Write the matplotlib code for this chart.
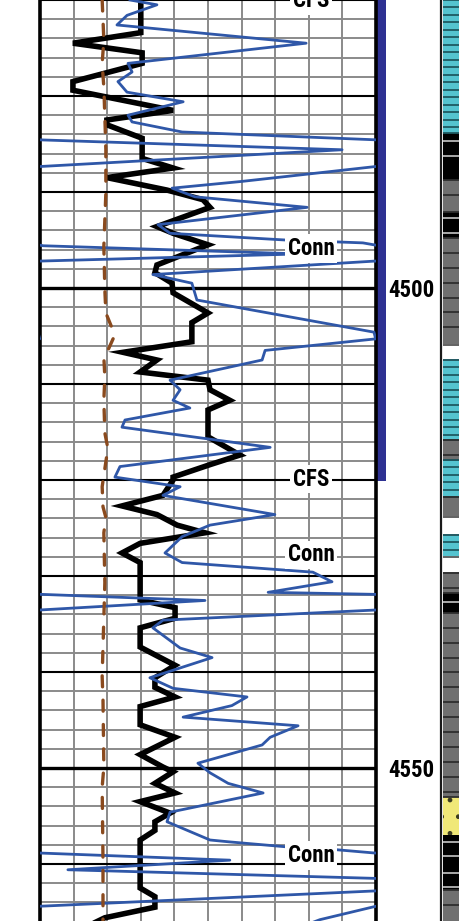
import numpy as np
import matplotlib
matplotlib.use("Agg")
import matplotlib.pyplot as plt
import matplotlib.font_manager as fm

# --- depth track data (depth in ft, curve values on a 0-100 track scale) ---
black_depth = [4470.0, 4473.4, 4474.5, 4475.5, 4476.6, 4478.5, 4479.4, 4481.5, 4482.5, 4483.0,
               4484.4, 4486.5, 4487.5, 4488.5, 4489.8, 4490.8, 4491.6, 4493.6, 4494.3, 4495.5,
               4497.6, 4498.4, 4499.5, 4500.5, 4502.6, 4503.6, 4505.6, 4506.7, 4507.5, 4508.75,
               4509.6, 4510.6, 4511.7, 4512.7, 4515.5, 4517.4, 4518.4, 4519.7, 4520.0, 4521.6,
               4522.7, 4523.6, 4524.7, 4525.5, 4526.6, 4527.6, 4528.6, 4532.5, 4533.3, 4534.4,
               4535.4, 4537.4, 4539.3, 4540.6, 4541.6, 4542.6, 4543.6, 4545.5, 4546.8, 4548.6,
               4549.9, 4550.4, 4551.6, 4552.6, 4553.5, 4554.7, 4555.6, 4556.5, 4557.5, 4562.5,
               4563.4, 4564.5, 4565.6, 4566.5]
black_val = [30.0, 30.0, 9.8, 30.4, 30.4, 9.8, 9.8, 39.6, 19.9, 19.9,
             30.4, 30.4, 39.6, 19.9, 37.8, 48.5, 50.6, 34.8, 39.6, 50.0,
             34.8, 34.2, 39.3, 39.6, 50.0, 45.2, 45.2, 24.7, 34.8, 29.8,
             50.0, 50.6, 56.5, 50.0, 50.0, 59.5, 50.6, 39.6, 39.6, 36.6,
             24.4, 34.8, 40.8, 49.1, 29.8, 24.4, 29.8, 29.8, 40.2, 40.2,
             29.8, 29.8, 40.2, 34.2, 34.2, 40.2, 29.8, 29.8, 40.2, 29.8,
             36.6, 39.6, 34.2, 40.2, 29.8, 38.7, 34.2, 34.2, 29.8, 29.8,
             34.2, 34.2, 19.3, 14.0]

# raw blue values; values above 100 wrap back onto the track
blue_depth = [4470.0, 4470.5, 4471.6, 4472.6, 4474.5, 4476.6, 4477.5, 4478.5, 4479.6, 4480.6,
              4482.0, 4482.7, 4483.75, 4484.58, 4485.6, 4487.35, 4488.9, 4489.6, 4490.5, 4491.6,
              4493.4, 4494.3, 4495.0, 4495.3, 4495.6, 4496.45, 4497.2, 4498.6, 4499.5, 4501.25,
              4504.6, 4505.3, 4506.5, 4507.5, 4509.6, 4510.6, 4511.7, 4512.5, 4513.75, 4514.5,
              4516.6, 4518.6, 4519.7, 4520.7, 4521.6, 4523.6, 4524.7, 4525.9, 4527.6, 4528.6,
              4529.6, 4530.6, 4531.7, 4531.92, 4532.55, 4533.55, 4534.6, 4535.4, 4537.5, 4538.5,
              4540.6, 4541.7, 4542.6, 4543.5, 4544.7, 4545.6, 4546.8, 4547.6, 4549.5, 4550.5,
              4551.6, 4552.6, 4554.6, 4555.6, 4557.5, 4557.7, 4558.2, 4558.5, 4558.85, 4559.6,
              4560.6, 4561.5, 4562.1, 4562.8, 4564.4, 4565.8, 4566.5]
blue_val = [26.8, 34.8, 25.9, 22.9, 79.2, 26.2, 27.4, 23.2, 25.9, 42.6,
            26.2, 27.4, 42.3, 101.0, 189.9, 99.8, 60.0, 39.3, 46.1, 79.5,
            35.1, 38.7, 73.0, 96.1, 101.0, 177.4, 99.5, 33.6, 45.2, 46.7,
            99.4, 99.9, 67.0, 66.1, 38.7, 41.7, 39.6, 44.6, 25.3, 24.4,
            68.5, 23.8, 22.3, 41.7, 36.6, 69.9, 50.6, 42.3, 37.2, 42.3,
            81.2, 86.9, 67.9, 101.0, 149.1, 99.5, 36.6, 33.6, 41.7, 51.2,
            32.7, 39.6, 61.6, 57.1, 42.6, 76.8, 68.5, 66.1, 47.0, 50.6,
            56.0, 66.4, 38.7, 37.8, 50.6, 56.5, 72.9, 87.8, 99.4, 156.5,
            108.3, 200.0, 205.0, 200.0, 100.0, 83.3, 78.0]

brown_depth = [4470.0, 4474.2, 4476.6, 4479.1, 4482.2, 4485.6, 4490.1, 4495.7, 4500.2, 4502.6,
               4504.4, 4505.1, 4506.5, 4507.2, 4509.3, 4511.7, 4515.1, 4516.7, 4520.7, 4522.8,
               4523.9, 4525.5, 4530.7, 4540.5, 4542.9, 4549.9, 4552.0, 4559.6, 4566.0]
brown_val = [18.5, 19.0, 18.5, 19.0, 19.3, 19.6, 19.6, 19.0, 19.3, 19.6,
             21.7, 22.0, 20.2, 19.0, 19.3, 19.0, 19.3, 20.2, 18.5, 18.75,
             19.6, 19.0, 19.3, 18.5, 18.75, 19.0, 18.5, 18.75, 18.75]

surface_names = ["CFS", "Conn", "CFS", "Conn", "Conn"]
surface_depths = [4470.1, 4495.9, 4519.9, 4527.8, 4559.1]

depth_labels = [4500, 4550]
bar_top, bar_base = 4465.0, 4520.1

# --- lithology column ---
litho_top = [4470.0, 4483.85, 4488.75, 4492.1, 4494.8, 4505.9, 4507.5, 4515.8, 4517.9, 4521.8,
             4523.85, 4525.7, 4528.0, 4529.7, 4531.8, 4533.85, 4553.0, 4557.0, 4562.7]
litho_base = [4483.85, 4488.75, 4492.1, 4494.8, 4505.9, 4507.5, 4515.8, 4517.9, 4521.8, 4523.85,
              4525.7, 4528.0, 4529.7, 4531.8, 4533.85, 4553.0, 4557.0, 4562.7, 4566.0]
litho_kind = ["cyan", "coal", "gray", "coal", "gray", "white", "cyan", "gray", "cyan", "gray",
              "white", "cyan", "white", "gray", "coal", "gray", "sand", "coal", "gray"]
coal_partings = [4484.65, 4486.25, 4492.7, 4494.3, 4532.7, 4557.7, 4559.2, 4560.9, 4562.4]

litho_style = {
    "cyan": ("#55c4d0", "#1e5a62", 0.78),
    "gray": ("#707070", "#2e2e2e", 1.55),
    "white": ("#ffffff", "#6a6a6a", None),
    "coal": ("#000000", None, None),
    "sand": ("#f0e878", None, None),
}

# narrow bold face if one is installed, otherwise a slightly smaller regular one
installed = {f.name for f in fm.fontManager.ttflist}
narrow = [n for n in ["Liberation Sans Narrow", "Arial Narrow", "Roboto Condensed",
                      "Open Sans Condensed", "DejaVu Sans Condensed"] if n in installed]
if narrow:
    label_font = dict(family=[narrow[0], "Liberation Sans"], weight="bold", size=16.5)
else:
    label_font = dict(family=["Liberation Sans", "DejaVu Sans"], weight="bold", size=14)

W, H = 459, 921
fig = plt.figure(figsize=(W / 100, H / 100), dpi=100)
ymax = 4470 + H / 9.6

ax = fig.add_axes([40 / W, 0, 336 / W, 1])
ax.set_xlim(0, 100)
ax.set_ylim(ymax, 4470)

ax.set_xticks(np.arange(0, 101, 10))
ax.set_yticks(np.arange(4470, 4566, 2), minor=True)
ax.grid(axis="x", color="#8a8a8a", lw=1.4, zorder=0)
ax.grid(axis="y", which="minor", color="#8a8a8a", lw=1.4, zorder=0)
for d in np.arange(4470, 4566, 10):
    ax.axhline(d, color="black", lw=2.4 if d % 50 == 0 else 1.5, zorder=1)
ax.set_axisbelow(True)

for s in ["top", "bottom"]:
    ax.spines[s].set_visible(False)
for s in ["left", "right"]:
    ax.spines[s].set_linewidth(2.6)

ax.yaxis.tick_right()
ax.set_yticks(depth_labels)
ax.set_yticklabels([str(d) for d in depth_labels], fontdict=label_font)
ax.tick_params(axis="y", which="both", length=0, pad=9)
ax.tick_params(axis="x", length=0, labelbottom=False)

ax.plot(black_val, black_depth, color="black", lw=4.0, solid_joinstyle="miter", zorder=3)
bv = np.array(blue_val)
ax.plot(bv, blue_depth, color="#2f57a8", lw=2.0, zorder=4)
ax.plot(bv - 100, blue_depth, color="#2f57a8", lw=2.0, zorder=4)
ax.plot(brown_val, brown_depth, color="#8a4a1e", lw=2.4, dashes=(3.3, 4.0),
        dash_capstyle="round", zorder=5)

for name, d in zip(surface_names, surface_depths):
    ax.text(80.65, d, name, ha="center", va="center", zorder=6, **label_font,
            bbox=dict(boxstyle="square,pad=0.12", fc="white", ec="none"))

ax.bar(101.65, bar_base - bar_top, bottom=bar_top, width=2.7, color="#2e3192",
       clip_on=False, zorder=2)

# lithology axes
lx = fig.add_axes([443 / W, 0, 30 / W, 1])
lx.set_xlim(0, 1)
lx.set_ylim(ymax, 4470)
lx.axis("off")
fig.add_artist(plt.Line2D([441 / W, 441 / W], [0, 1], color="#1a1a1a", lw=1.6))
plt.rcParams["hatch.color"] = "#3a3a20"
for top, base, kind in zip(litho_top, litho_base, litho_kind):
    face, sep, step = litho_style[kind]
    lx.bar(0.5, base - top, bottom=top, width=1, color=face,
           hatch="." if kind == "sand" else None, lw=0)
    if sep is not None:
        lx.hlines([top, base], 0, 1, color=sep, lw=1.3)
        if step:
            lx.hlines(np.arange(top + step, base - step / 3, step), 0, 1, color=sep, lw=1.3)
lx.hlines(coal_partings, 0, 1, color="#d8d8d8", lw=1.1)

fig.savefig("out.png", dpi=100)
